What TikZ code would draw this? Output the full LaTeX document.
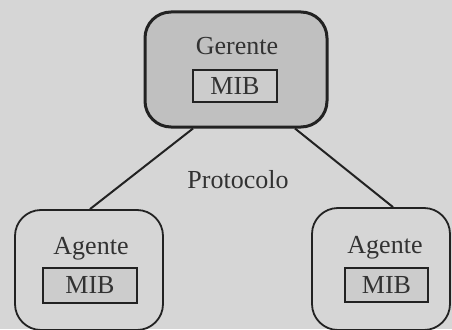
\documentclass[tikz,border=0pt]{standalone}
\usepackage{fontspec}
\setmainfont{Liberation Serif}
\definecolor{paper}{RGB}{214,214,214}
\definecolor{mgrfill}{RGB}{192,192,192}
\definecolor{mibfill}{RGB}{204,204,204}
\definecolor{ink}{RGB}{34,34,34}
\definecolor{txt}{RGB}{50,50,50}
\begin{document}
\begin{tikzpicture}[x=1pt,y=-1pt,
  every node/.style={font=\fontsize{26}{30}\selectfont, text=txt, inner sep=0pt},
  station/.style={draw=ink, line width=1.8pt, rounded corners=26pt, fill=paper},
  manager/.style={station, line width=3pt, fill=mgrfill},
  mibbox/.style={draw=ink, line width=1.8pt, fill=mibfill},
  link/.style={draw=ink, line width=2pt}]
  % background
  \fill[paper] (0,0) rectangle (452,329);
  \useasboundingbox (0,0) rectangle (452,329);

  % stations
  \node[manager, minimum width=182pt, minimum height=115pt] (ger) at (236,69.5) {};
  \node[station, minimum width=148pt, minimum height=120pt] (agl) at (89,270) {};
  \node[station, minimum width=138pt, minimum height=122pt] (agr) at (381,269) {};

  % labels
  \node[anchor=base] (gt) at (237,55) {Gerente};
  \node[mibbox, minimum width=84pt, minimum height=32pt] (gm) at (235,86) {MIB};
  \node[anchor=base] (alt) at (91,254) {Agente};
  \node[mibbox, minimum width=94pt, minimum height=35pt] (alm) at (90,285.5) {MIB};
  \node[anchor=base] (art) at (385,253) {Agente};
  \node[mibbox, minimum width=83pt, minimum height=34pt] (arm) at (386.5,285) {MIB};
  \node[anchor=base] (proto) at (238,188) {Protocolo};

  % connectors
  \draw[link] ([xshift=-43pt]ger.south) -- ([xshift=1pt]agl.north);
  \draw[link] ([xshift=59pt]ger.south) -- ([xshift=12pt]agr.north);
\end{tikzpicture}
\end{document}
